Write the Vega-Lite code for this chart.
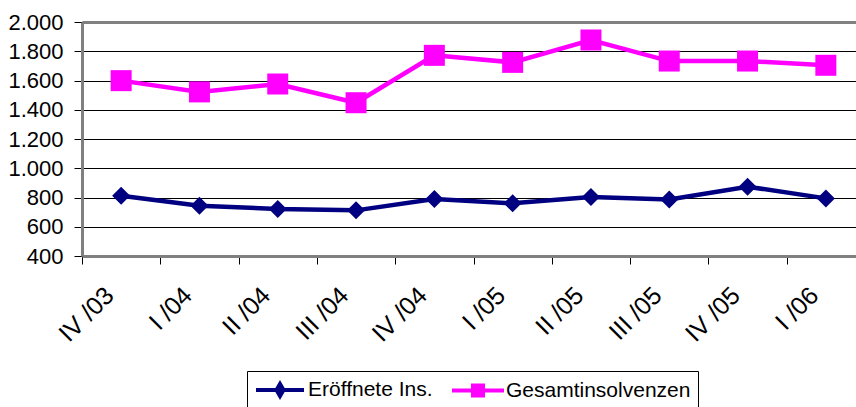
{
  "$schema": "https://vega.github.io/schema/vega-lite/v6.json",
  "width": 774,
  "height": 234,
  "autosize": {"type": "none"},
  "padding": {"left": 82, "top": 22, "right": 0, "bottom": 151},
  "config": {"view": {"stroke": null}, "font": "Liberation Sans"},
  "data": {
    "values": [
      {"q": "IV /03", "series": "Eröffnete Ins.", "value": 812},
      {"q": "I /04", "series": "Eröffnete Ins.", "value": 744},
      {"q": "II /04", "series": "Eröffnete Ins.", "value": 721},
      {"q": "III /04", "series": "Eröffnete Ins.", "value": 712},
      {"q": "IV /04", "series": "Eröffnete Ins.", "value": 790},
      {"q": "I /05", "series": "Eröffnete Ins.", "value": 760},
      {"q": "II /05", "series": "Eröffnete Ins.", "value": 803},
      {"q": "III /05", "series": "Eröffnete Ins.", "value": 786},
      {"q": "IV /05", "series": "Eröffnete Ins.", "value": 874},
      {"q": "I /06", "series": "Eröffnete Ins.", "value": 794},
      {"q": "IV /03", "series": "Gesamtinsolvenzen", "value": 1599},
      {"q": "I /04", "series": "Gesamtinsolvenzen", "value": 1522},
      {"q": "II /04", "series": "Gesamtinsolvenzen", "value": 1576},
      {"q": "III /04", "series": "Gesamtinsolvenzen", "value": 1448},
      {"q": "IV /04", "series": "Gesamtinsolvenzen", "value": 1772},
      {"q": "I /05", "series": "Gesamtinsolvenzen", "value": 1724},
      {"q": "II /05", "series": "Gesamtinsolvenzen", "value": 1877},
      {"q": "III /05", "series": "Gesamtinsolvenzen", "value": 1733},
      {"q": "IV /05", "series": "Gesamtinsolvenzen", "value": 1733},
      {"q": "I /06", "series": "Gesamtinsolvenzen", "value": 1704}
    ]
  },
  "encoding": {
    "x": {
      "field": "q", "type": "nominal", "sort": null,
      "scale": {"paddingInner": 0, "paddingOuter": 0, "range": [0, 783]},
      "axis": {
        "title": null, "tickBand": "extent", "labelAngle": -45,
        "labelAlign": "right", "labelBaseline": "middle",
        "labelFontSize": 25, "labelColor": "black", "labelFont": "Liberation Sans",
        "tickColor": "black", "tickSize": 8, "tickWidth": 1, "labelPadding": 27, "labelOffset": -12,
        "domain": true, "domainColor": "#808080", "domainWidth": 3, "grid": false
      }
    },
    "y": {
      "field": "value", "type": "quantitative",
      "scale": {"domain": [400, 2000], "nice": false, "zero": false},
      "axis": {
        "title": null,
        "values": [400, 600, 800, 1000, 1200, 1400, 1600, 1800, 2000],
        "labelExpr": "replace(format(datum.value, ','), ',', '.')",
        "labelFontSize": 22, "labelColor": "black", "labelFont": "Liberation Sans",
        "tickColor": "black", "tickSize": 8, "tickWidth": 1, "labelPadding": 11,
        "domain": true, "domainColor": "#808080", "domainWidth": 3,
        "grid": true, "gridOpacity": 1,
        "gridColor": {"condition": [{"test": "datum.value === 400", "value": "transparent"}, {"test": "datum.value === 2000", "value": "#808080"}], "value": "black"},
        "gridWidth": {"condition": {"test": "datum.value === 2000", "value": 3}, "value": 1}
      }
    }
  },
  "layer": [
    {
      "mark": {"type": "line", "strokeWidth": 4.5},
      "encoding": {
        "color": {
          "field": "series", "type": "nominal",
          "scale": {"domain": ["Eröffnete Ins.", "Gesamtinsolvenzen"], "range": ["#000080", "#ff00ff"]},
          "legend": {
            "title": null, "orient": "none", "legendX": 165, "legendY": 349,
            "direction": "horizontal", "strokeColor": "black", "padding": 7,
            "labelFontSize": 21, "labelColor": "black", "labelFont": "Liberation Sans", "labelLimit": 0,
            "symbolSize": 400, "symbolOffset": 14, "labelOffset": 16, "columnPadding": 11,
            "symbolStrokeWidth": 4,
            "encode": {
              "symbols": {
                "update": {
                  "shape": {"signal": "datum.value === 'Eröffnete Ins.' ? 'M-2.4,0L2.4,0M0,-0.6L0.35,0L0,0.6L-0.35,0Z' : 'M-2.6,0L2.6,0M-0.5,-0.5L0.5,-0.5L0.5,0.5L-0.5,0.5Z'"},
                  "fill": {"signal": "datum.value === 'Eröffnete Ins.' ? '#000080' : '#ff00ff'"},
                  "stroke": {"signal": "datum.value === 'Eröffnete Ins.' ? '#000080' : '#ff00ff'"},
                  "strokeWidth": {"value": 4},
                  "opacity": {"value": 1},
                  "fillOpacity": {"value": 1}
                }
              }
            }
          }
        }
      }
    },
    {
      "transform": [{"filter": "datum.series === 'Eröffnete Ins.'"}],
      "mark": {"type": "point", "shape": "diamond", "filled": true, "opacity": 1, "size": 324, "color": "#000080"}
    },
    {
      "transform": [{"filter": "datum.series === 'Gesamtinsolvenzen'"}],
      "mark": {"type": "point", "shape": "square", "filled": true, "opacity": 1, "size": 441, "color": "#ff00ff"}
    }
  ]
}
